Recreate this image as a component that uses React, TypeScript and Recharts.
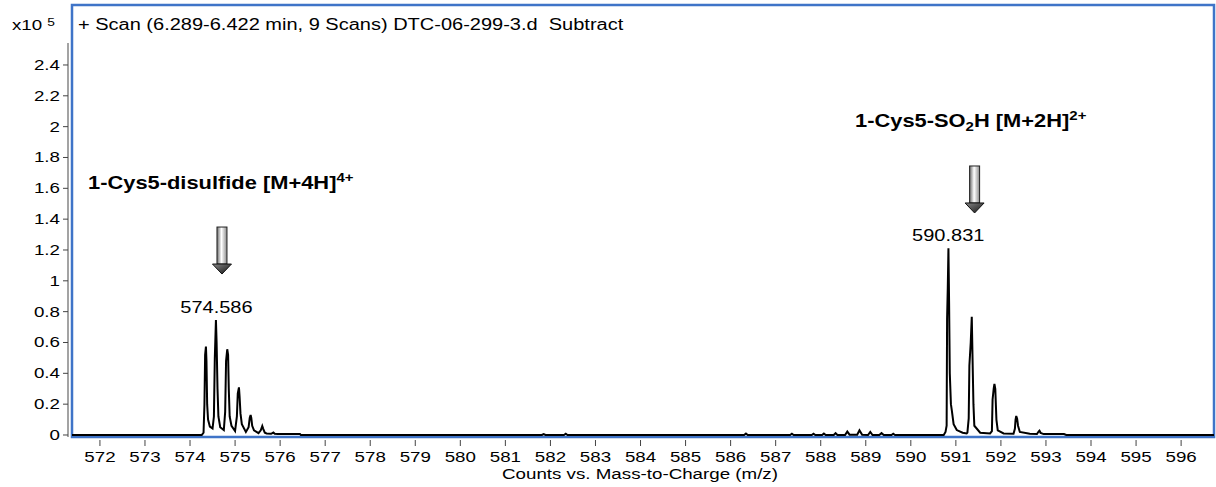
import React from "react";
import { Line, LineChart, ReferenceDot, XAxis, YAxis } from "recharts";

// m/z, counts (x10^5)
const disulfideCluster = [
  [574.26, 0], [574.3, 0.015], [574.32, 0.2], [574.335, 0.52], [574.353, 0.573],
  [574.365, 0.48], [574.38, 0.2], [574.4, 0.1], [574.44, 0.055], [574.5, 0.043],
  [574.53, 0.12], [574.55, 0.5], [574.575, 0.746], [574.59, 0.6], [574.61, 0.3],
  [574.63, 0.12], [574.67, 0.05], [574.75, 0.032], [574.78, 0.15], [574.8, 0.48],
  [574.826, 0.556], [574.845, 0.52], [574.86, 0.3], [574.88, 0.12], [574.92, 0.06],
  [575.0, 0.026], [575.04, 0.12], [575.06, 0.27], [575.086, 0.309], [575.1, 0.25],
  [575.12, 0.14], [575.15, 0.07], [575.24, 0.02], [575.3, 0.05], [575.325, 0.11],
  [575.345, 0.13], [575.36, 0.11], [575.38, 0.06], [575.42, 0.03], [575.52, 0.012],
  [575.57, 0.03], [575.604, 0.058], [575.625, 0.04], [575.66, 0.015], [575.7, 0.01],
  [575.8, 0.008], [575.85, 0.016], [575.88, 0.008], [575.95, 0.006], [576.44, 0.006],
  [576.46, 0],
];

const minorPeaks = [
  [581.81, 0], [581.85, 0.006], [581.89, 0],
  [582.3, 0], [582.34, 0.008], [582.38, 0],
  [586.3, 0], [586.34, 0.01], [586.38, 0],
  [587.32, 0], [587.36, 0.008], [587.4, 0],
  [587.8, 0], [587.84, 0.008], [587.88, 0],
  [588.03, 0], [588.07, 0.01], [588.11, 0],
  [588.29, 0], [588.33, 0.012], [588.37, 0],
  [588.54, 0], [588.59, 0.022], [588.64, 0.002],
  [588.81, 0.002], [588.86, 0.03], [588.92, 0.002],
  [589.05, 0], [589.1, 0.02], [589.15, 0],
  [589.3, 0], [589.35, 0.012], [589.4, 0],
  [589.57, 0], [589.61, 0.008], [589.65, 0],
];

const sulfinicCluster = [
  [590.73, 0], [590.77, 0.02], [590.795, 0.06], [590.805, 0.75], [590.82, 0.95],
  [590.835, 1.211], [590.85, 0.85], [590.865, 0.4], [590.89, 0.2], [590.91, 0.16],
  [590.95, 0.07], [591.02, 0.032], [591.15, 0.015], [591.24, 0.01], [591.256, 0.015],
  [591.285, 0.108], [591.3, 0.45], [591.33, 0.6], [591.353, 0.767], [591.37, 0.5],
  [591.39, 0.2], [591.41, 0.06], [591.54, 0.015], [591.76, 0.01], [591.8, 0.025],
  [591.815, 0.23], [591.84, 0.3], [591.856, 0.331], [591.875, 0.3], [591.9, 0.1],
  [591.93, 0.03], [592.06, 0.01], [592.28, 0.008], [592.31, 0.04], [592.325, 0.1],
  [592.34, 0.123], [592.36, 0.105], [592.38, 0.06], [592.42, 0.02], [592.64, 0.008],
  [592.8, 0.006], [592.84, 0.024], [592.855, 0.028], [592.88, 0.014], [592.95, 0.006],
  [593.35, 0.006], [593.4, 0.006], [593.45, 0],
];

const xTicks = [572, 573, 574, 575, 576, 577, 578, 579, 580, 581, 582, 583, 584, 585, 586, 587, 588, 589, 590, 591, 592, 593, 594, 595, 596];
const yTicks = [0, 0.2, 0.4, 0.6, 0.8, 1, 1.2, 1.4, 1.6, 1.8, 2, 2.2, 2.4];

const peakLabels = [
  { mz: 574.586, value: 0.746, text: "574.586" },
  { mz: 590.831, value: 1.211, text: "590.831" },
];
const arrowTips = [
  { mz: 574.709, value: 1.044 },
  { mz: 591.416, value: 1.44 },
];

const data = [[571.38, 0], ...disulfideCluster, ...minorPeaks, ...sulfinicCluster, [596.73, 0]].map(
  ([m, c]) => ({ mz: m, counts: c })
);

const W = 1216;
const H = 487;
const FONT = "'Liberation Sans', Arial, Helvetica, sans-serif";
const STRETCH = 1.25;
const FRAME_BLUE = "#3f74c8";

function SText({ x, y, size = 15, bold = false, anchor = "start", children }: any) {
  return (
    <text
      transform={`translate(${x} ${y}) scale(${STRETCH} 1)`}
      fontFamily={FONT}
      fontSize={size}
      fontWeight={bold ? 700 : 400}
      textAnchor={anchor}
      fill="#000"
      xmlSpace="preserve"
      style={{ whiteSpace: "pre" }}
    >
      {children}
    </text>
  );
}

function YTick({ y, payload }: any) {
  return (
    <g>
      <line x1={63} x2={68} y1={y} y2={y} stroke="#444" />
      <SText x={60} y={y + 5} anchor="end">{String(payload.value)}</SText>
    </g>
  );
}

function XTick({ x, payload }: any) {
  return (
    <g>
      <line x1={x} x2={x} y1={440} y2={446} stroke="#444" />
      <SText x={x} y={462} anchor="middle">{String(payload.value)}</SText>
    </g>
  );
}

function Arrow({ cx, cy }: any) {
  return (
    <g>
      <rect x={cx - 5} y={cy - 47} width={10} height={37} fill="url(#shaftGrad)" stroke="#222" strokeWidth={1} />
      <polygon
        points={`${cx - 9.5},${cy - 10} ${cx + 9.5},${cy - 10} ${cx},${cy}`}
        fill="url(#headGrad)"
        stroke="#111"
        strokeWidth={1}
      />
    </g>
  );
}

export default function App() {
  return (
    <div style={{ position: "fixed", left: 0, top: 0, background: "#fff" }}>
      <LineChart width={W} height={H} data={data} margin={{ top: 5, right: 2, bottom: 0, left: 0 }}>
        <defs>
          <linearGradient id="shaftGrad" x1="0" x2="1" y1="0" y2="0">
            <stop offset="0%" stopColor="#6a6a6a" />
            <stop offset="45%" stopColor="#ffffff" />
            <stop offset="100%" stopColor="#8a8a8a" />
          </linearGradient>
          <linearGradient id="headGrad" x1="0" x2="1" y1="0" y2="1">
            <stop offset="0%" stopColor="#888" />
            <stop offset="100%" stopColor="#111" />
          </linearGradient>
        </defs>
        <rect x={72} y={5} width={1142} height={432} fill="none" stroke={FRAME_BLUE} strokeWidth={2.5} />
        <line x1={68} x2={68} y1={43} y2={437} stroke="#666" strokeWidth={1.2} />
        <XAxis
          dataKey="mz"
          type="number"
          domain={[571.38, 596.73]}
          ticks={xTicks}
          interval={0}
          height={50}
          axisLine={false}
          tickLine={false}
          tick={<XTick />}
          allowDataOverflow
        />
        <YAxis
          type="number"
          domain={[-0.013, 2.789]}
          ticks={yTicks}
          interval={0}
          width={72}
          axisLine={false}
          tickLine={false}
          tick={<YTick />}
          allowDataOverflow
        />
        <Line type="linear" dataKey="counts" stroke="#000" strokeWidth={2} dot={false} isAnimationActive={false} />
        {peakLabels.map((p) => (
          <ReferenceDot
            key={p.text}
            x={p.mz}
            y={p.value}
            r={1}
            shape={(s: any) => (
              <SText x={s.cx} y={s.cy - 7} size={16} anchor="middle">{p.text}</SText>
            )}
          />
        ))}
        {arrowTips.map((a) => (
          <ReferenceDot key={a.mz} x={a.mz} y={a.value} r={1} shape={(s: any) => <Arrow cx={s.cx} cy={s.cy} />} />
        ))}
        <SText x={12} y={30}>
          x10<tspan fontSize={11} dx={4} dy={-4}>5</tspan>
        </SText>
        <SText x={78} y={30} size={16}>{"+ Scan (6.289-6.422 min, 9 Scans) DTC-06-299-3.d\u00a0 Subtract"}</SText>
        <SText x={88} y={189} size={17.5} bold>
          1-Cys5-disulfide [M+4H]<tspan fontSize={12} dy={-7}>4+</tspan>
        </SText>
        <SText x={855} y={127} size={17.5} bold>
          1-Cys5-SO<tspan fontSize={12} dy={4}>2</tspan>
          <tspan dy={-4}>H [M+2H]</tspan>
          <tspan fontSize={12} dy={-7}>2+</tspan>
        </SText>
        <SText x={640} y={479} anchor="middle">Counts vs. Mass-to-Charge (m/z)</SText>
      </LineChart>
    </div>
  );
}
